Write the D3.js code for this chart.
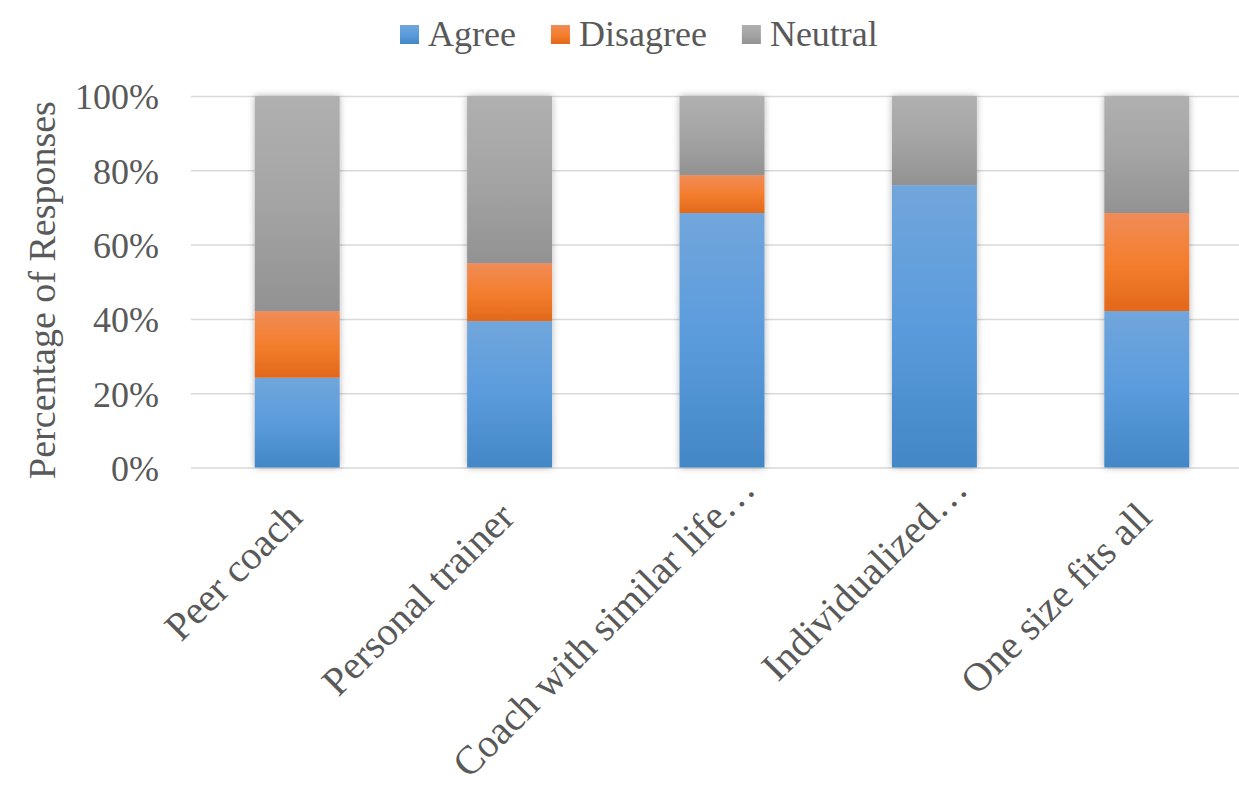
<!DOCTYPE html>
<html>
<head>
<meta charset="utf-8">
<script src="https://cdn.jsdelivr.net/npm/d3@7"></script>
<style>
  html, body { margin: 0; padding: 0; background: #fff; }
  svg { display: block; }
  text { font-family: "Liberation Serif", "Times New Roman", serif; fill: #595959; }
</style>
</head>
<body>
<svg id="chart" width="1239" height="792"></svg>
<script>
// ---- data ----
const categories = ["Peer coach", "Personal trainer", "Coach with similar life\u2026", "Individualized\u2026", "One size fits all"];
const seriesNames = ["Agree", "Disagree", "Neutral"];
const agree    = [0.242, 0.394, 0.685, 0.760, 0.421];
const disagree = [0.179, 0.156, 0.102, 0.000, 0.264];
const neutral  = [0.579, 0.450, 0.213, 0.240, 0.315];
const yTicks = [0, 0.2, 0.4, 0.6, 0.8, 1.0];
const yTitle = "Percentage of Responses";

const rows = categories.map((c, i) => ({ cat: c, Agree: agree[i], Disagree: disagree[i], Neutral: neutral[i] }));

const svg = d3.select("#chart");
const W = 1239, H = 792;
const plot = { left: 191, right: 1253, top: 96, bottom: 467.5 };
const serif = "'Liberation Serif', 'Times New Roman', serif";

const x = d3.scaleBand().domain(categories).range([plot.left, plot.right]).paddingInner(0.6).paddingOuter(0.3);
const y = d3.scaleLinear().domain([0, 1]).range([plot.bottom, plot.top]);

// gradients
const defs = svg.append("defs");
const grads = {
  Agree:    ["#71a6dc", "#5a9bdc", "#4387c6"],
  Disagree: ["#f08c58", "#f47e2e", "#e2681a"],
  Neutral:  ["#b0b0b0", "#a4a4a4", "#929292"]
};
seriesNames.forEach(s => {
  const g = defs.append("linearGradient").attr("id", "g-" + s).attr("x1", 0).attr("y1", 0).attr("x2", 0).attr("y2", 1);
  g.append("stop").attr("offset", "0%").attr("stop-color", grads[s][0]);
  g.append("stop").attr("offset", "50%").attr("stop-color", grads[s][1]);
  g.append("stop").attr("offset", "100%").attr("stop-color", grads[s][2]);
});
const f = defs.append("filter").attr("id", "shadow").attr("filterUnits", "userSpaceOnUse")
  .attr("x", 0).attr("y", 0).attr("width", W).attr("height", H);
f.append("feGaussianBlur").attr("in", "SourceAlpha").attr("stdDeviation", 3.5).attr("result", "blur");
f.append("feFlood").attr("flood-color", "#000").attr("flood-opacity", 0.3).attr("result", "col");
f.append("feComposite").attr("in", "col").attr("in2", "blur").attr("operator", "in").attr("result", "sh");
const fm = f.append("feMerge");
fm.append("feMergeNode").attr("in", "sh");
fm.append("feMergeNode").attr("in", "SourceGraphic");

// gridlines + y tick labels
const yAxis = d3.axisLeft(y).tickValues(yTicks).tickFormat(d3.format(".0%")).tickSize(-(plot.right - plot.left)).tickPadding(32);
const gy = svg.append("g").attr("transform", `translate(${plot.left},0)`).call(yAxis)
  .attr("font-family", serif);
gy.select(".domain").remove();
gy.selectAll(".tick line").attr("stroke", "#d9d9d9").attr("stroke-width", 1.5);
gy.selectAll(".tick text").attr("font-size", 36).attr("fill", "#595959").attr("dy", "0.36em")
  .style("font-family", serif);

// bars
const stack = d3.stack().keys(seriesNames);
const stacked = stack(rows);
const barsG = svg.append("g").attr("filter", "url(#shadow)");
barsG.selectAll("g.series").data(stacked).join("g").attr("class", "series")
  .attr("fill", d => `url(#g-${d.key})`)
  .selectAll("rect").data(d => d.filter(p => p[1] - p[0] > 0)).join("rect")
  .attr("x", d => x(d.data.cat))
  .attr("width", x.bandwidth())
  .attr("y", d => y(d[1]))
  .attr("height", d => y(d[0]) - y(d[1]));

// x axis labels (rotated -45°, ending just below each bar)
const xAxis = d3.axisBottom(x).tickSize(0).tickPadding(0);
const gx = svg.append("g").attr("transform", `translate(0,${plot.bottom})`).call(xAxis)
  .attr("font-family", serif);
gx.select(".domain").remove();
gx.selectAll(".tick text")
  .attr("font-size", 40).attr("fill", "#595959")
  .style("font-family", serif)
  .attr("text-anchor", "end")
  .attr("y", 0)
  .attr("dy", 0)
  .attr("dx", d => d.endsWith("\u2026") ? 40 : 0)
  .attr("transform", "translate(7,52) rotate(-45)");

// y axis title
svg.append("text")
  .attr("transform", `translate(55,290) rotate(-90)`)
  .attr("text-anchor", "middle")
  .attr("font-size", 38)
  .text(yTitle);

// legend
const legend = svg.append("g");
let lx = 400;
seriesNames.forEach(s => {
  const item = legend.append("g").attr("transform", `translate(${lx},0)`);
  item.append("rect").attr("x", 0).attr("y", 25).attr("width", 19).attr("height", 19).attr("fill", `url(#g-${s})`);
  const t = item.append("text").attr("x", 28).attr("y", 46).attr("font-size", 36).text(s);
  const w = t.node().getComputedTextLength();
  lx += 28 + w + 35;
});
</script>
</body>
</html>
